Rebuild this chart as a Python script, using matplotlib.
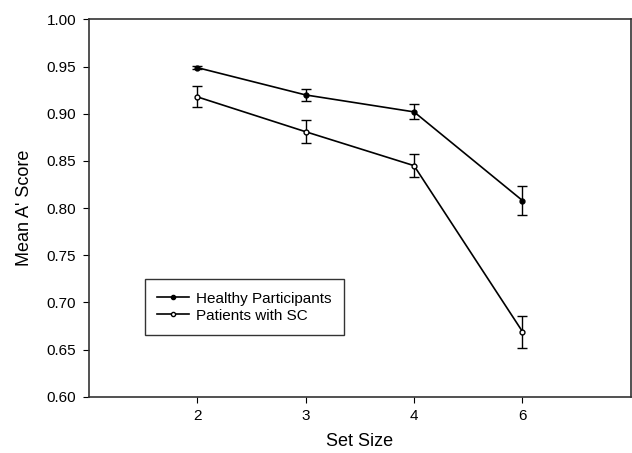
#!/usr/bin/env python3

import matplotlib
matplotlib.use("Agg")
import matplotlib.pyplot as plt
from matplotlib.lines import Line2D

set_sizes = ["2", "3", "4", "6"]
healthy_mean = [0.949, 0.920, 0.902, 0.808]
healthy_err = [0.002, 0.006, 0.008, 0.015]
patients_mean = [0.918, 0.881, 0.845, 0.669]
patients_err = [0.011, 0.012, 0.012, 0.017]
y_ticks = [0.60, 0.65, 0.70, 0.75, 0.80, 0.85, 0.90, 0.95, 1.00]


def main() -> None:
    plt.rcParams["font.family"] = ["Liberation Sans", "DejaVu Sans"]
    fig = plt.figure(figsize=(6.32, 4.53), dpi=100)
    ax = fig.add_axes([0.1403, 0.1243, 0.858, 0.8327])

    pos = list(range(1, len(set_sizes) + 1))
    ax.errorbar(pos, healthy_mean, yerr=healthy_err, color="black", lw=1.2,
                marker="o", ms=3.5, mfc="black", mec="black",
                capsize=3.5, elinewidth=1, capthick=1)
    ax.errorbar(pos, patients_mean, yerr=patients_err, color="black", lw=1.2,
                marker="o", ms=3.5, mfc="white", mec="black",
                capsize=3.5, elinewidth=1, capthick=1)

    ax.set_xlim(0, 5)
    ax.set_ylim(0.60, 1.00)
    ax.set_xticks(pos)
    ax.set_xticklabels(set_sizes)
    ax.set_yticks(y_ticks)
    ax.set_yticklabels([f"{t:.2f}" for t in y_ticks])
    ax.tick_params(direction="out", length=4, width=0.8, labelsize=11, pad=5)
    for s in ax.spines.values():
        s.set_color("#333333")
        s.set_linewidth(1.2)

    ax.set_xlabel("Set Size", fontsize=13, labelpad=7)
    ax.set_ylabel("Mean A' Score", fontsize=13, labelpad=10)

    handles = [
        Line2D([], [], color="black", lw=1.2, marker="o", ms=3,
               mfc="black", mec="black"),
        Line2D([], [], color="black", lw=1.2, marker="o", ms=3,
               mfc="white", mec="black"),
    ]
    labels = ["Healthy Participants", "Patients with SC"]
    leg = ax.legend(handles, labels, loc="upper left",
                    bbox_to_anchor=(0.104, 0.311),
                    borderaxespad=0, fancybox=False, edgecolor="black",
                    fontsize=11, handlelength=2.1, handletextpad=0.45,
                    labelspacing=0.2, borderpad=0.8)
    leg.get_frame().set_linewidth(1.0)

    fig.savefig("out.png", dpi=100)
    plt.close(fig)


if __name__ == "__main__":
    main()
